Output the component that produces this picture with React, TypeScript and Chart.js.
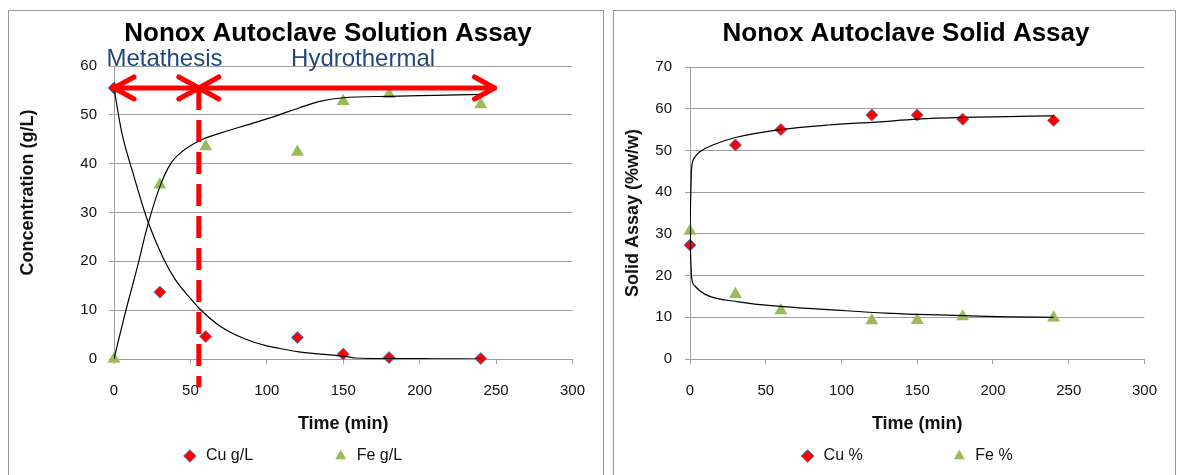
import React, { useEffect, useRef } from 'react';
import { Chart, registerables } from 'chart.js';

Chart.register(...registerables);

const FONT = '"Liberation Sans", Arial, Helvetica, sans-serif';
const GRID = '#9d9d9d';
const TEXT = '#111111';
const CU_FILL = '#FF0000';
const CU_EDGE = '#4F81BD';
const FE_FILL = '#9BBB59';
const ARROW_RED = '#FF0000';
const PHASE_BLUE = '#1F497D';

const TIME_MIN = 0;
const TIME_MAX = 300;
const TIME_STEP = 50;

// ---- Solution assay (g/L) ----
const SOLUTION_TIME = [0, 30, 60, 120, 150, 180, 240];
const CU_GL = [55.5, 13.7, 4.6, 4.4, 1.0, 0.3, 0.1];
const FE_GL = [0, 35.7, 43.5, 42.4, 52.8, 54.2, 52.1];
const CU_GL_FIT_TIME = [0, 5, 12.5, 22, 32, 40, 50, 56, 70, 85, 100, 108, 120, 135, 150, 158, 180, 210, 240];
const CU_GL_FIT = [55.5, 46.5, 38, 28.3, 20.8, 16.3, 12.4, 10.3, 6.6, 4.2, 2.7, 2.2, 1.5, 1.0, 0.6, 0.2, 0.1, 0.05, 0.0];
const FE_GL_FIT_TIME = [0, 7, 15, 22, 30, 37.5, 45, 56, 70, 90, 108, 121, 134, 150, 180, 210, 240];
const FE_GL_FIT = [0, 9, 18.5, 27.3, 35.3, 40.2, 42.6, 44.7, 46.3, 48.2, 50, 51.4, 52.7, 53.5, 53.8, 54, 54.2];

// ---- Solid assay (%w/w) ----
const SOLID_TIME = [0, 30, 60, 120, 150, 180, 240];
const CU_PCT = [27.3, 51.3, 55.0, 58.5, 58.5, 57.5, 57.2];
const FE_PCT = [30.7, 15.5, 11.6, 9.2, 9.3, 10.2, 9.9];
const CU_PCT_FIT_TIME = [0, 0.3, 0.7, 1, 3, 6.5, 15, 30, 60, 91, 123, 150, 180, 210, 240];
const CU_PCT_FIT = [27.3, 36, 42, 45.5, 48.3, 49.7, 51.3, 53.1, 55.0, 56.1, 56.8, 57.5, 57.9, 58.1, 58.3];
const FE_PCT_FIT_TIME = [0, 0.3, 0.7, 1, 3.2, 10, 32, 64, 97, 129, 150, 180, 210, 240];
const FE_PCT_FIT = [31, 26, 22, 19.7, 17.5, 15.5, 13.7, 12.5, 11.7, 11, 10.7, 10.4, 10.1, 10];

// ---- Phase annotation (left chart) ----
const PHASE_NAMES = ['Metathesis', 'Hydrothermal'];
const PHASE_NAME_TIME = [33, 163];
const PHASE_EDGES = [0, 55.5, 249];
const PHASE_ARROW_LEVEL = 55.5;
const PHASE_NAME_LEVEL = 60;
const DIVIDER_END_LEVEL = -5.8;

const pts = (xs: number[], ys: number[]) => xs.map((x, i) => ({ x, y: ys[i] }));

const titlePlugin = {
  id: 'panelTitle',
  afterDraw(chart: any, _args: any, opts: any) {
    const ctx = chart.ctx;
    ctx.save();
    ctx.font = `bold ${opts.size}px ${FONT}`;
    ctx.fillStyle = '#000';
    ctx.textAlign = 'center';
    ctx.textBaseline = 'alphabetic';
    ctx.fillText(opts.text, opts.x, opts.baseline);
    ctx.restore();
  },
};

function arrowHead(ctx: CanvasRenderingContext2D, tipX: number, y: number, dir: number) {
  const len = 20;
  const half = 11;
  ctx.beginPath();
  ctx.moveTo(tipX + dir * len, y - half);
  ctx.lineTo(tipX, y);
  ctx.lineTo(tipX + dir * len, y + half);
  ctx.stroke();
}

const phasePlugin = {
  id: 'phases',
  afterDatasetsDraw(chart: any) {
    const { ctx, scales } = chart;
    const x = scales.x;
    const y = scales.y;
    const yA = y.getPixelForValue(PHASE_ARROW_LEVEL);
    const xs = PHASE_EDGES.map((v) => x.getPixelForValue(v));
    ctx.save();
    ctx.strokeStyle = ARROW_RED;
    ctx.lineWidth = 5;
    ctx.setLineDash([22, 10]);
    ctx.beginPath();
    ctx.moveTo(xs[1], yA);
    ctx.lineTo(xs[1], y.getPixelForValue(DIVIDER_END_LEVEL));
    ctx.stroke();
    ctx.setLineDash([]);
    ctx.lineCap = 'round';
    ctx.lineJoin = 'round';
    for (let i = 0; i < xs.length - 1; i++) {
      ctx.beginPath();
      ctx.moveTo(xs[i], yA);
      ctx.lineTo(xs[i + 1], yA);
      ctx.stroke();
      arrowHead(ctx, xs[i], yA, 1);
      arrowHead(ctx, xs[i + 1], yA, -1);
    }
    ctx.fillStyle = PHASE_BLUE;
    ctx.font = `24px ${FONT}`;
    ctx.textAlign = 'center';
    ctx.textBaseline = 'alphabetic';
    PHASE_NAMES.forEach((name, i) => {
      ctx.fillText(name, x.getPixelForValue(PHASE_NAME_TIME[i]), y.getPixelForValue(PHASE_NAME_LEVEL));
    });
    ctx.restore();
  },
};

function scalesFor(yMax: number, yTitle: string, yWidth: number, yPad: number) {
  return {
    x: {
      type: 'linear',
      min: TIME_MIN,
      max: TIME_MAX,
      ticks: { stepSize: TIME_STEP, padding: 18, color: TEXT, font: { family: FONT, size: 15 } },
      grid: { drawOnChartArea: false, drawTicks: true, tickLength: 5, color: GRID, lineWidth: 1 },
      border: { display: true, color: GRID, width: 1 },
      title: { display: true, text: 'Time (min)', color: TEXT, font: { family: FONT, size: 18, weight: 'bold' }, padding: 0 },
      afterFit: (s: any) => { s.height = 76; },
    },
    y: {
      type: 'linear',
      min: 0,
      max: yMax,
      ticks: { stepSize: 10, padding: yPad, color: TEXT, font: { family: FONT, size: 15 } },
      grid: { color: GRID, tickLength: 5, lineWidth: 1 },
      border: { display: true, color: GRID, width: 1 },
      title: { display: true, text: yTitle, color: TEXT, font: { family: FONT, size: 18, weight: 'bold' }, padding: { top: 8, bottom: 0 } },
      afterFit: (s: any) => { s.width = yWidth; },
    },
  };
}

function datasetsFor(t: number[], cu: number[], fe: number[], cuLabel: string, feLabel: string,
  cuFitT: number[], cuFit: number[], feFitT: number[], feFit: number[]) {
  return [
    { label: cuLabel, data: pts(t, cu), pointStyle: 'rectRot', pointRadius: 6, pointHoverRadius: 6,
      backgroundColor: CU_FILL, borderColor: CU_EDGE, borderWidth: 1, showLine: false, order: 1, clip: false },
    { label: feLabel, data: pts(t, fe), pointStyle: 'triangle', pointRadius: 7.5, pointHoverRadius: 7.5,
      backgroundColor: FE_FILL, borderColor: FE_FILL, borderWidth: 0, showLine: false, order: 1, clip: false },
    { label: cuLabel + ' fit', data: pts(cuFitT, cuFit), showLine: true, pointRadius: 0, borderColor: '#000',
      backgroundColor: '#000', borderWidth: 1.2, cubicInterpolationMode: 'monotone', order: 0 },
    { label: feLabel + ' fit', data: pts(feFitT, feFit), showLine: true, pointRadius: 0, borderColor: '#000',
      backgroundColor: '#000', borderWidth: 1.2, cubicInterpolationMode: 'monotone', order: 0 },
  ];
}

function legendFor(gaps: number[], fullSize: boolean) {
  return {
    position: 'bottom',
    fullSize,
    labels: {
      usePointStyle: true,
      boxWidth: 16,
      boxHeight: 9,
      padding: 13,
      color: TEXT,
      font: { family: FONT, size: 16 },
      filter: (item: any) => item.datasetIndex < 2,
      generateLabels: (chart: any) =>
        (Chart.defaults.plugins.legend.labels.generateLabels as any)(chart).map((it: any) => ({
          ...it,
          text: it.text + ' '.repeat(gaps[it.datasetIndex] || 0),
        })),
    },
  };
}

function buildSolution(canvas: HTMLCanvasElement) {
  return new Chart(canvas, {
    type: 'scatter',
    data: {
      datasets: datasetsFor(SOLUTION_TIME, CU_GL, FE_GL, 'Cu g/L', 'Fe g/L',
        CU_GL_FIT_TIME, CU_GL_FIT, FE_GL_FIT_TIME, FE_GL_FIT) as any,
    },
    options: {
      responsive: false,
      animation: false,
      devicePixelRatio: 1,
      layout: { padding: { top: 55, right: 28, bottom: 1, left: 0 } },
      scales: scalesFor(60, ' '.repeat(8) + 'Concentration (g/L)', 105, 12) as any,
      plugins: {
        legend: legendFor([15, 0], true) as any,
        tooltip: { enabled: false },
        panelTitle: { text: 'Nonox Autoclave Solution Assay', x: 319, baseline: 29.5, size: 26 },
      } as any,
    },
    plugins: [titlePlugin, phasePlugin],
  });
}

function buildSolid(canvas: HTMLCanvasElement) {
  return new Chart(canvas, {
    type: 'scatter',
    data: {
      datasets: datasetsFor(SOLID_TIME, CU_PCT, FE_PCT, 'Cu %', 'Fe %',
        CU_PCT_FIT_TIME, CU_PCT_FIT, FE_PCT_FIT_TIME, FE_PCT_FIT) as any,
    },
    options: {
      responsive: false,
      animation: false,
      devicePixelRatio: 1,
      layout: { padding: { top: 56, right: 22, bottom: 1, left: 0 } },
      scales: scalesFor(70, 'Solid Assay (%w/w)', 76, 13) as any,
      plugins: {
        legend: legendFor([17, 5], false) as any,
        tooltip: { enabled: false },
        panelTitle: { text: 'Nonox Autoclave Solid Assay', x: 292, baseline: 29.5, size: 26 },
      } as any,
    },
    plugins: [titlePlugin],
  });
}

export default function App() {
  const leftRef = useRef<HTMLCanvasElement>(null);
  const rightRef = useRef<HTMLCanvasElement>(null);

  useEffect(() => {
    const a = buildSolution(leftRef.current as HTMLCanvasElement);
    const b = buildSolid(rightRef.current as HTMLCanvasElement);
    return () => {
      a.destroy();
      b.destroy();
    };
  }, []);

  const border = '1px solid #999999';
  return (
    <div style={{ position: 'fixed', left: 0, top: 0, width: 1179, height: 475, overflow: 'hidden', background: '#fff' }}>
      <div style={{ position: 'absolute', left: 8, top: 10, width: 594, height: 500, border }}>
        <canvas ref={leftRef} width={594} height={464} style={{ display: 'block', width: 594, height: 464 }} />
      </div>
      <div style={{ position: 'absolute', left: 613, top: 10, width: 561, height: 500, border }}>
        <canvas ref={rightRef} width={561} height={464} style={{ display: 'block', width: 561, height: 464 }} />
      </div>
    </div>
  );
}
